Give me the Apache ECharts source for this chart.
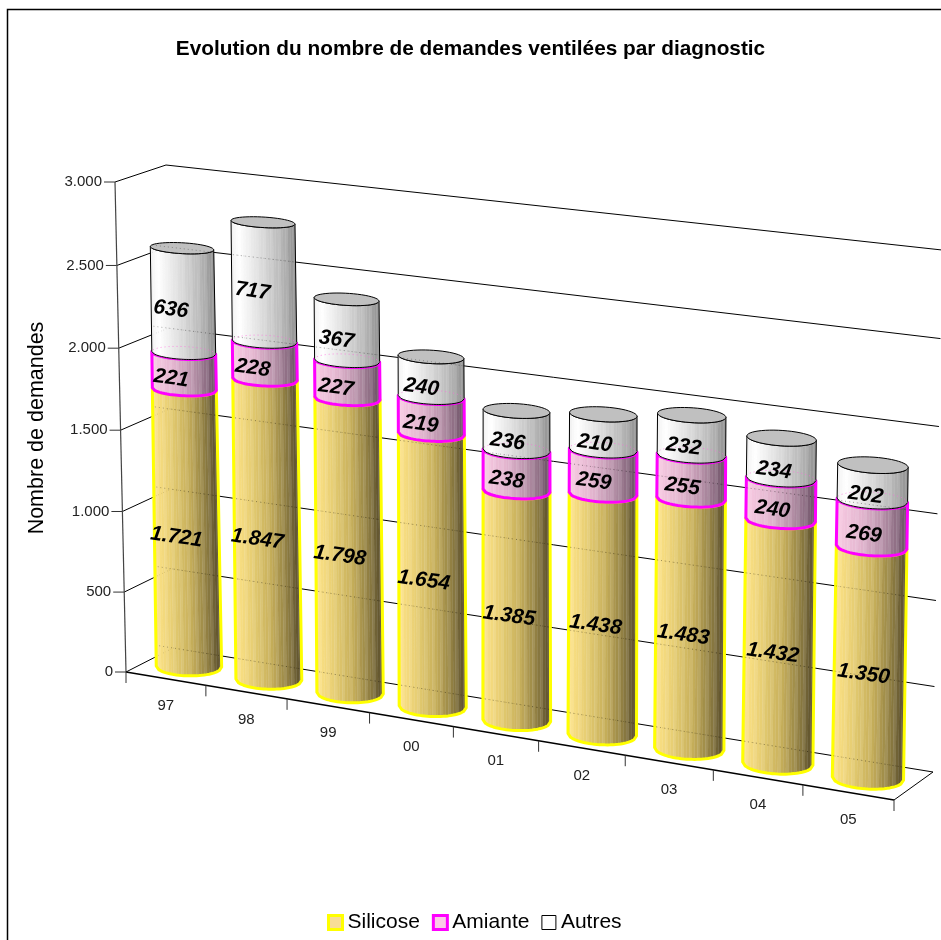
<!DOCTYPE html>
<html><head><meta charset="utf-8">
<style>html,body{margin:0;padding:0;background:#fff}#c{width:941px;height:940px}</style>
<script src="https://cdn.jsdelivr.net/npm/echarts@6/dist/echarts.min.js"></script>
</head><body><div id="c"></div>
<script>
var categories = ['97','98','99','00','01','02','03','04','05'];
var silicose = [1721,1847,1798,1654,1385,1438,1483,1432,1350];
var amiante  = [221,228,227,219,238,259,255,240,269];
var autres   = [636,717,367,240,236,210,232,234,202];
var yTicks = [0,500,1000,1500,2000,2500,3000];
var yTickLabels = ['0','500','1.000','1.500','2.000','2.500','3.000'];
var FONT = '"Liberation Sans", Arial, sans-serif';

// Hidden cartesian scales (their output is fed through a 3D perspective projection)
var G = {left:0, top:0, width:900, height:900};
// projection frame
var F = {bl:[126,672], br:[894,800], tr:[904,275], tl:[115,182]};
var B = {bl:[173,648], br:[933,772], tr:[942,250], tl:[166,165]};
function homography(q){
  var x0=q.bl[0],y0=q.bl[1],x1=q.br[0],y1=q.br[1],x2=q.tr[0],y2=q.tr[1],x3=q.tl[0],y3=q.tl[1];
  var dx1=x1-x2,dx2=x3-x2,sx=x0-x1+x2-x3,dy1=y1-y2,dy2=y3-y2,sy=y0-y1+y2-y3;
  var den=dx1*dy2-dx2*dy1,g=(sx*dy2-dx2*sy)/den,h=(dx1*sy-sx*dy1)/den;
  var a=x1-x0+g*x1,b=x3-x0+h*x3,c=x0,d=y1-y0+g*y1,e=y3-y0+h*y3,f=y0;
  return function(u,v){var w=g*u+h*v+1;return [(a*u+b*v+c)/w,(d*u+e*v+f)/w];};
}
var HF=homography(F),HB=homography(B);
function P(u,v,w){var p=HF(u,v),q=HB(u,v);return [p[0]+(q[0]-p[0])*w,p[1]+(q[1]-p[1])*w];}
// data -> normalized through the axis scales
function norm(api,cat,val){
  var c=api.coord([cat,val]);
  return [(c[0]-G.left)/G.width,(G.top+G.height-c[1])/G.height];
}
var RU=0.365/9;
function RW(v){return 0.33-0.11*v;}
var ramps={
 Silicose:[[0,'#ffe488'],[.25,'#e8cf74'],[.55,'#c6ae5a'],[.8,'#8f7e42'],[1,'#54492a']],
 Amiante:[[0,'#f9cbe3'],[.35,'#e2b4ce'],[.65,'#b892aa'],[.88,'#85667b'],[1,'#664c60']],
 Autres:[[0,'#f0f0f0'],[.12,'#ffffff'],[.5,'#d8d8d8'],[.8,'#b4b4b4'],[1,'#8e8e8e']]
};
var strokes={Silicose:['#ffff00',3],Amiante:['#ff00ff',3],Autres:['#000000',1]};
function hex(c){return [parseInt(c.substr(1,2),16),parseInt(c.substr(3,2),16),parseInt(c.substr(5,2),16)];}
function ramp(name,s,boost){
  var r=ramps[name],i=0;
  while(i<r.length-2&&s>r[i+1][0])i++;
  var a=hex(r[i][1]),b=hex(r[i+1][1]),k=(s-r[i][0])/(r[i+1][0]-r[i][0]);
  var o=[0,1,2].map(function(j){var x=a[j]+(b[j]-a[j])*k;x=x+(255-x)*boost;return Math.round(x);});
  return 'rgb('+o.join(',')+')';
}
function ell(uc,v,t){return P(uc+RU*Math.cos(t),v,0.5+RW(v)*Math.sin(t));}
function extremeT(uc,v){
  var p0=ell(uc,v,0),pi=ell(uc,v,Math.PI),h=ell(uc,v,Math.PI/2),l=ell(uc,v,-Math.PI/2);
  return Math.atan2(h[0]-l[0],p0[0]-pi[0]);
}
function labelText(v){return v>=1000?Math.floor(v/1000)+'.'+String(v%1000).padStart(3,'0'):String(v);}
function segment(name,labelDx,labelDy){
  return function(params,api){
    var cat=api.value(0),base=api.value(1),top=api.value(2);
    var nb=norm(api,cat,base),nt=norm(api,cat,top),uc=nb[0],vb=nb[1],vt=nt[1];
    var tb=extremeT(uc,vb),tt=extremeT(uc,vt),M=26,kids=[],botPts=[],topPts=[];
    for(var k=0;k<=M;k++){
      var a=Math.acos(-1+2*k/M);
      botPts.push(ell(uc,vb,tb+2*Math.PI-a));
      topPts.push(ell(uc,vt,tt+2*Math.PI-a));
    }
    for(k=0;k<M;k++){
      var col=ramp(name,(k+.5)/M,(k%3===1)?0.09:0);
      kids.push({type:'polygon',shape:{points:[botPts[k],botPts[k+1],topPts[k+1],topPts[k]]},
        style:{fill:col,stroke:col,lineWidth:.4},silent:true});
    }
    var st=strokes[name];
    var closed=botPts.concat(topPts.slice().reverse());
    kids.push({type:'polygon',shape:{points:closed},style:{fill:'none',stroke:st[0],lineWidth:st[1],lineJoin:'round'},silent:true});
    if(name==='Autres'){
      var cap=[];for(k=0;k<48;k++)cap.push(ell(uc,vt,k/48*2*Math.PI));
      kids.push({type:'polygon',shape:{points:cap},style:{fill:'#c0c0c0',stroke:'#000',lineWidth:1},silent:true});
      var back=[];for(k=0;k<=20;k++)back.push(ell(uc,vb,tb+k/20*Math.PI));
      kids.push({type:'polyline',shape:{points:back},style:{fill:'none',stroke:'#ff66dd',lineWidth:1,lineDash:[1,3],opacity:.7},silent:true});
    }
    var mid=(vb+vt)/2,pos=P(uc,mid,0);
    kids.push({type:'text',x:pos[0]+labelDx,y:pos[1]+labelDy,rotation:-8*Math.PI/180,silent:true,
      style:{text:labelText(Math.round(top-base)),fontFamily:FONT,fontSize:21,fontWeight:'bold',fontStyle:'italic',fill:'#000',align:'center',verticalAlign:'middle'}});
    return {type:'group',children:kids};
  };
}
function stackData(vals,below){
  return vals.map(function(v,i){var b=below[i];return [i,b,b+v];});
}
var zeros=silicose.map(function(){return 0;});
var sum1=silicose.slice();
var sum2=silicose.map(function(v,i){return v+amiante[i];});

function renderWalls(params,api){
  var kids=[],nTop=norm(api,0,3000);
  var line=function(a,b,lw,col){kids.push({type:'line',silent:true,shape:{x1:a[0],y1:a[1],x2:b[0],y2:b[1]},style:{stroke:col||'#000',lineWidth:lw||1}});};
  yTicks.forEach(function(t,i){
    var v=norm(api,0,t)[1];
    var a=P(0,v,0),b=P(0,v,1),c=P(1,v,1);
    line(a,b);line(b,c);
    line([a[0]-11,a[1]],a,1,'#333');
    kids.push({type:'text',silent:true,x:a[0]-13,y:a[1],style:{text:yTickLabels[i],fontFamily:FONT,fontSize:15,fill:'#222',align:'right',verticalAlign:'middle'}});
  });
  line(P(0,0,0),P(0,nTop[1],0),1.2,'#444');
  line(P(0,0,0),P(1,0,0),1.5);
  line(P(1,0,0),P(1,0,1),1);
  for(var i=0;i<=categories.length;i++){
    var p=P(i/categories.length,0,0);
    line(p,[p[0],p[1]+11],1,'#333');
  }
  categories.forEach(function(c,i){
    var u=norm(api,i,0)[0],p=P(u,0,0);
    kids.push({type:'text',silent:true,x:p[0],y:p[1]+27.5,style:{text:c,fontFamily:FONT,fontSize:15,fill:'#222',align:'center',verticalAlign:'middle'}});
  });
  kids.push({type:'text',silent:true,x:37,y:428,rotation:Math.PI/2,style:{text:'Nombre de demandes',fontFamily:FONT,fontSize:21.5,fill:'#000',align:'center',verticalAlign:'middle'}});
  return {type:'group',children:kids};
}
function renderThrough(params,api){
  // wall grid lines faintly seen through the bars
  var cat=api.value(0),tot=api.value(1),kids=[];
  var n=norm(api,cat,0),uc=n[0],vTot=norm(api,cat,tot)[1];
  var topY=P(uc,vTot,.5)[1],botY=P(uc,0,.5)[1];
  yTicks.forEach(function(t){
    var v=norm(api,0,t)[1],p=P(uc,v,1),m=P(uc,v,.5),q=P(uc+.01,v,1);
    var cell=(q[0]-p[0])/.01,uu=uc-(p[0]-m[0])/cell;
    var a=P(uu-RU*1.05,v,1),b=P(uu+RU*1.05,v,1),ym=(a[1]+b[1])/2;
    if(ym>topY&&ym<=botY+2){
      kids.push({type:'line',silent:true,shape:{x1:a[0],y1:a[1],x2:b[0],y2:b[1]},style:{stroke:'#000',lineWidth:1,lineDash:[1,3],opacity:.3}});
    }
  });
  return {type:'group',children:kids};
}
var baseSeries={type:'custom',coordinateSystem:'cartesian2d',xAxisIndex:0,yAxisIndex:0,clip:false,animation:false,silent:true};
function mk(o){return Object.assign({},baseSeries,o);}
var option={
  animation:false,backgroundColor:'#fff',
  title:{text:'Evolution du nombre de demandes ventilées par diagnostic',left:'center',top:34,
    textStyle:{fontFamily:FONT,fontSize:20.8,fontWeight:'bold',color:'#000'}},
  grid:{left:G.left,top:G.top,width:G.width,height:G.height,containLabel:false},
  xAxis:{type:'category',data:categories,show:false},
  yAxis:{type:'value',min:0,max:3000,interval:500,show:false},
  legend:{left:327,top:912,itemWidth:14,itemHeight:14,itemGap:12,selectedMode:false,padding:0,
    textStyle:{fontFamily:FONT,fontSize:21,color:'#000',padding:[2,0,0,0]},
    data:[
      {name:'Silicose',icon:'rect',itemStyle:{color:'#f8dd96',borderColor:'#ffff00',borderWidth:3}},
      {name:'Amiante',icon:'rect',itemStyle:{color:'#fbcbe6',borderColor:'#ff00ff',borderWidth:3}},
      {name:'Autres',icon:'rect',itemStyle:{color:'#ffffff',borderColor:'#000000',borderWidth:1}}
    ]},
  graphic:[{type:'polyline',silent:true,shape:{points:[[7.5,940],[7.5,9.5],[941,9.5]]},style:{fill:'none',stroke:'#000',lineWidth:1.5}}],
  series:[
    mk({name:'axes',z:1,data:[[0,0]],encode:{x:0,y:1},renderItem:renderWalls}),
    mk({name:'Silicose',z:2,data:stackData(silicose,zeros),encode:{x:0,y:[1,2]},itemStyle:{color:'#f8dd96'},renderItem:segment('Silicose',13.5,-3)}),
    mk({name:'Amiante',z:2,data:stackData(amiante,sum1),encode:{x:0,y:[1,2]},itemStyle:{color:'#fbcbe6'},renderItem:segment('Amiante',11.5,-3)}),
    mk({name:'Autres',z:2,data:stackData(autres,sum2),encode:{x:0,y:[1,2]},itemStyle:{color:'#ffffff'},renderItem:segment('Autres',12.5,-1)}),
    mk({name:'through',z:3,data:sum2.map(function(v,i){return [i,v+autres[i]];}),encode:{x:0,y:1},renderItem:renderThrough})
  ]
};
var chart=echarts.init(document.getElementById('c'),null,{renderer:'canvas'});
chart.setOption(option);
</script></body></html>
